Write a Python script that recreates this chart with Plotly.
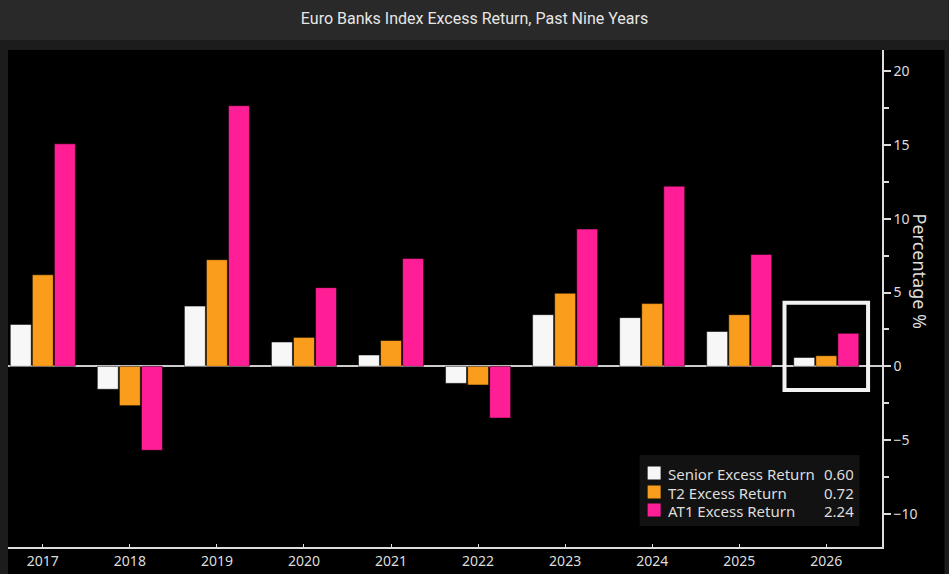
import plotly.graph_objects as go

# Datos (exceso de retorno en %)
years = ["2017", "2018", "2019", "2020", "2021", "2022", "2023", "2024", "2025", "2026"]
senior = [2.84, -1.55, 4.08, 1.65, 0.77, -1.15, 3.50, 3.30, 2.36, 0.60]
t2 = [6.20, -2.66, 7.22, 1.96, 1.75, -1.26, 4.95, 4.25, 3.50, 0.72]
at1 = [15.07, -5.68, 17.65, 5.33, 7.30, -3.50, 9.30, 12.20, 7.58, 2.24]

series_names = ["Senior Excess Return", "T2 Excess Return", "AT1 Excess Return"]
series_values = [senior, t2, at1]
colors = ["#f7f7f7", "#fb9d1c", "#ff1e96"]

W, H = 949, 574
L, R, T, B = 8, 882.5, 50, 547  # bordes del area de trazado en px


def px_x(p):
    return (p - L) / (R - L)


def px_y(q):
    return (B - q) / (B - T)


fig = go.Figure()
for name, vals, col in zip(series_names, series_values, colors):
    fig.add_trace(go.Bar(
        x=years, y=vals, name=name, showlegend=False,
        marker=dict(color=col, line=dict(color="#000000", width=0.5)),
    ))

txt_font = dict(family="Noto Sans", size=15, color="#dddddd")

shapes = [
    # fondo negro del grafico
    dict(type="rect", xref="paper", yref="paper", layer="below",
         x0=0, x1=px_x(945), y0=px_y(H), y1=1,
         fillcolor="#000000", line=dict(width=0)),
    # banda del titulo
    dict(type="rect", xref="paper", yref="paper", layer="below",
         x0=px_x(0), x1=px_x(W), y0=px_y(40), y1=px_y(0),
         fillcolor="#292929", line=dict(width=0)),
    # recuadro de 2026
    dict(type="rect", xref="x", yref="y",
         x0=8.52, x1=9.48, y0=-1.6, y1=4.3,
         line=dict(color="#f2f2f2", width=4)),
    # caja de la leyenda
    dict(type="rect", xref="paper", yref="paper",
         x0=px_x(640), x1=px_x(860), y0=px_y(526), y1=px_y(455),
         fillcolor="#121212", line=dict(width=0)),
]

# Leyenda dibujada a mano: muestra, nombre y ultimo valor
row_y = [473, 492, 510]
annotations = []
for name, vals, col, ry in zip(series_names, series_values, colors, row_y):
    shapes.append(dict(type="rect", xref="paper", yref="paper",
                       x0=px_x(648), x1=px_x(661), y0=px_y(ry + 6.5), y1=px_y(ry - 6.5),
                       fillcolor=col, line=dict(width=0)))
    annotations.append(dict(
        x=px_x(667), y=px_y(ry), xref="paper", yref="paper", height=17, borderpad=0,
        text=name, showarrow=False, xanchor="left", yanchor="middle", font=txt_font,
    ))
    annotations.append(dict(
        x=px_x(855), y=px_y(ry), xref="paper", yref="paper", height=17, borderpad=0,
        text=f"{vals[-1]:.2f}", showarrow=False, xanchor="right", yanchor="middle",
        font=txt_font,
    ))

annotations.append(dict(
    x=px_x(935), y=px_y(272), xref="paper", yref="paper",
    text="Percentage %", textangle=90, showarrow=False,
    font=dict(family="Noto Sans", size=18, color="#dddddd"),
))

fig.update_layout(
    width=W, height=H,
    margin=dict(l=L, r=W - R, t=T, b=H - B, autoexpand=False),
    paper_bgcolor="#1c1c1c",
    plot_bgcolor="#000000",
    barmode="group", bargap=0.24, bargroupgap=0.05,
    showlegend=False,
    title=dict(text="Euro Banks Index Excess Return, Past Nine Years",
               x=0.5, xref="container", y=1 - 18 / H, yref="container",
               xanchor="center", yanchor="middle",
               font=dict(family="Roboto", size=16, color="#e6e6e6")),
    font=dict(family="Noto Sans", size=14, color="#dddddd"),
    xaxis=dict(type="category", range=[-0.4, 9.64], showline=True, automargin=False,
               linecolor="#dddddd", linewidth=1.5, ticks="inside", ticklen=3,
               tickcolor="#dddddd", showgrid=False, zeroline=False,
               tickfont=dict(family="Noto Sans", size=14, color="#dddddd")),
    yaxis=dict(side="right", range=[-12.23, 21.42], showline=True, automargin=False,
               linecolor="#dddddd", linewidth=1.5,
               tickvals=[-10, -5, 0, 5, 10, 15, 20], ticks="outside",
               ticklen=7, tickwidth=2, tickcolor="#dddddd",
               minor=dict(tickvals=[-12.5, -7.5, -2.5, 2.5, 7.5, 12.5, 17.5],
                          ticks="outside", ticklen=5, tickcolor="#dddddd"),
               showgrid=False, zeroline=True, zerolinecolor="#cccccc",
               zerolinewidth=1.5,
               tickfont=dict(family="Noto Sans", size=14, color="#dddddd")),
    annotations=annotations,
    shapes=shapes,
)

fig.write_html("out.html", config={"displayModeBar": False},
               post_script="document.body.style.margin='0px';")
